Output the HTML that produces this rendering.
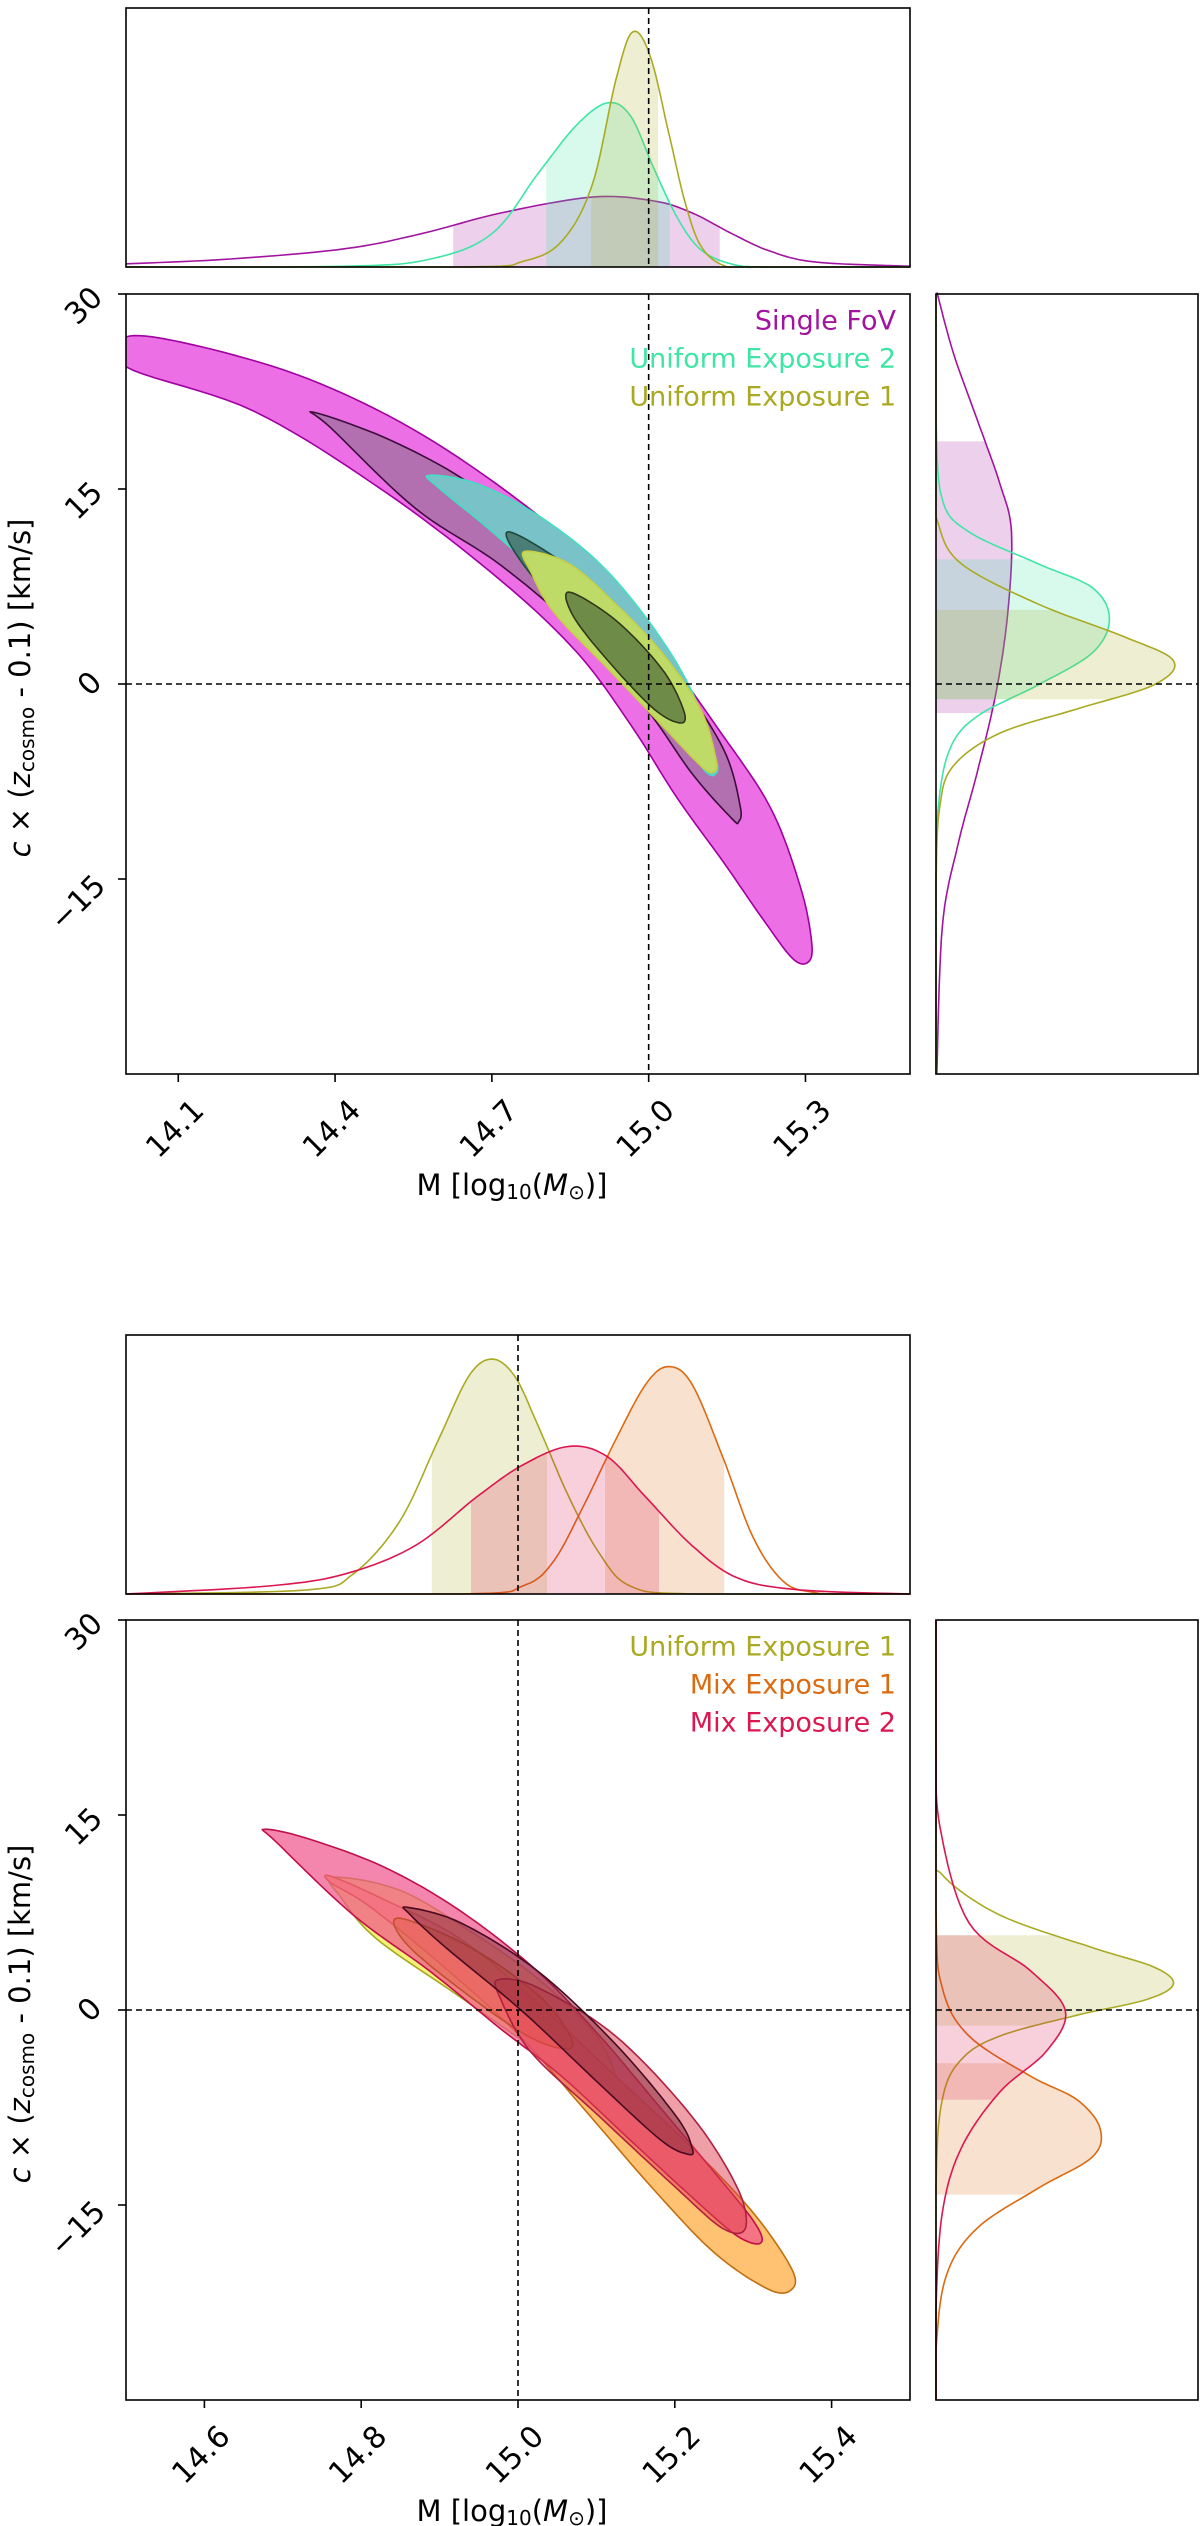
<!DOCTYPE html>
<html><head><meta charset="utf-8">
<style>
html,body{margin:0;padding:0;background:#fff;}
svg{display:block;font-family:"DejaVu Sans","Liberation Sans",sans-serif;}
</style></head>
<body>
<svg id="fig" width="1200" height="2526" viewBox="0 0 1200 2526" xmlns="http://www.w3.org/2000/svg"></svg>
<script>
// ---------- DATA ----------
const topXTicks = [14.1, 14.4, 14.7, 15.0, 15.3];
const botXTicks = [14.6, 14.8, 15.0, 15.2, 15.4];
const yTicks = [30, 15, 0, -15];
const yTickLabels = ["30", "15", "0", "\u221215"];
const topLegend = ["Single FoV", "Uniform Exposure 2", "Uniform Exposure 1"];
const botLegend = ["Uniform Exposure 1", "Mix Exposure 1", "Mix Exposure 2"];

// contours (M, v)
const sfOuterM = [14.0,14.127,14.347,14.568,14.789,14.937,15.040,15.128,15.231,15.290,15.312,15.305,15.275,15.217,15.143,15.054,14.966,14.863,14.716,14.495,14.244,14.0];
const sfOuterV = [26.7,26.1,23.5,19.15,12.95,7.38,1.8,-3.16,-9.36,-15.56,-19.9,-21.4,-21.1,-18.0,-13.7,-8.74,-3.16,2.42,8.0,14.8,21.0,24.4];
const sfInnerM = [14.359,14.495,14.642,14.789,14.937,15.054,15.143,15.175,15.172,15.158,15.084,14.996,14.878,14.716,14.554,14.392];
const sfInnerV = [20.9,18.95,15.85,11.5,6.14,0.56,-5.0,-9.36,-10.6,-10.3,-6.94,-1.92,3.6,9.17,13.5,19.7];
const ue2OuterM = [14.580,14.672,14.789,14.907,15.010,15.084,15.128,15.128,15.106,15.040,14.937,14.819,14.701,14.598];
const ue2OuterV = [16.05,15.4,12.95,9.24,4.28,-0.68,-5.64,-6.9,-6.6,-3.1,1.8,7.4,11.7,15.1];
const ue2InnerM = [14.730,14.819,14.937,15.025,15.062,15.062,15.040,14.966,14.863,14.760];
const ue2InnerV = [11.7,9.8,6.1,1.8,-1.3,-2.9,-2.9,-0.06,4.3,9.2];
const ue1OuterM = [14.763,14.848,14.937,15.025,15.099,15.128,15.125,15.099,15.025,14.922,14.819,14.775];
const ue1OuterV = [10.2,9.24,6.14,2.42,-1.92,-5.64,-6.76,-6.26,-3.16,1.18,5.5,8.6];
const ue1InnerM = [14.848,14.937,15.025,15.066,15.062,15.010,14.922,14.856];
const ue1InnerV = [7.07,4.9,1.18,-1.92,-3.0,-1.92,1.8,5.2];

// bottom contours
const m2OuterM = [14.677,14.731,14.829,14.927,15.025,15.104,15.173,15.241,15.300,15.310,15.280,15.222,15.143,15.055,14.976,14.888,14.790,14.692];
const m2OuterV = [13.9,13.2,11.0,7.6,2.97,-1.98,-6.9,-11.8,-16.2,-17.9,-17.4,-14.4,-10.0,-5.07,-1.36,2.97,7.3,12.9];
const m1OuterM = [14.761,14.829,14.927,15.025,15.124,15.222,15.300,15.349,15.349,15.320,15.251,15.173,15.084,14.999,14.900,14.810,14.761];
const m1OuterV = [10.3,8.5,5.44,0.5,-5.07,-10.6,-15.6,-19.9,-21.5,-21.5,-18.7,-13.8,-7.6,-1.8,3.6,8.0,9.8];
const m2InnerM = [14.859,14.927,15.025,15.124,15.202,15.222,15.217,15.182,15.104,15.006,14.908,14.863];
const m2InnerV = [7.9,6.7,3.0,-2.6,-8.2,-10.6,-11.1,-10.0,-5.7,-0.12,4.8,7.3];
const m1InnerM = [14.976,15.025,15.124,15.222,15.280,15.290,15.261,15.202,15.104,15.016,14.976];
const m1InnerV = [2.35,1.73,-1.98,-8.2,-13.7,-16.8,-16.8,-13.7,-8.2,-3.2,1.1];

// marginal densities
const sfTopM = [14.0,14.2,14.421,14.568,14.716,14.892,15.010,15.084,15.158,15.231,15.320,15.5];
const sfTopH = [0.012,0.031,0.071,0.13,0.208,0.27,0.255,0.208,0.13,0.062,0.019,0.003];
const ue2TopM = [14.0,14.421,14.583,14.701,14.789,14.863,14.922,14.966,15.010,15.054,15.099,15.158,15.231,15.5];
const ue2TopH = [0,0.003,0.031,0.13,0.363,0.55,0.634,0.581,0.38,0.193,0.068,0.012,0,0];
const ue1TopM = [14.0,14.642,14.760,14.834,14.892,14.937,14.969,15.003,15.040,15.069,15.099,15.143,15.202,15.5];
const ue1TopH = [0,0,0.022,0.1,0.317,0.72,0.907,0.814,0.503,0.255,0.084,0.006,0,0];
const sfTopBand = [14.626, 15.136];
const ue2TopBand = [14.804, 15.040];
const ue1TopBand = [14.890, 15.018];

const sfRightV = [30,29.7,25.35,20.4,15.4,11.7,5.5,-0.68,-6.9,-12.5,-18.7,-30];
const sfRightH = [0.005,0.009,0.068,0.156,0.244,0.288,0.274,0.229,0.156,0.082,0.024,0.003];
const ue2RightV = [30,20.4,14.2,11.7,9.24,7.4,5.0,2.4,-0.06,-2.5,-5.0,-9.4,-15.6,-30];
const ue2RightH = [0,0,0.024,0.126,0.391,0.597,0.662,0.597,0.391,0.156,0.053,0.009,0,0];
const ue1RightV = [30,15.4,12.3,9.24,6.14,3.66,1.8,-0.06,-1.92,-3.78,-6.26,-9.36,-15.6,-30];
const ue1RightH = [0,0,0.009,0.097,0.391,0.715,0.906,0.832,0.538,0.244,0.068,0.015,0,0];
const sfRightBand = [-2.23, 18.66];
const ue2RightBand = [-1.18, 9.6];
const ue1RightBand = [-1.18, 5.7];

const ue1BTopM = [14.5,14.731,14.790,14.849,14.898,14.937,14.967,14.996,15.025,15.065,15.104,15.143,15.222,15.5];
const ue1BTopH = [0,0.016,0.078,0.28,0.592,0.84,0.907,0.84,0.654,0.374,0.156,0.031,0,0];
const m1BTopM = [14.5,14.927,15.006,15.045,15.084,15.124,15.163,15.192,15.222,15.261,15.300,15.339,15.378,15.418,15.5];
const m1BTopH = [0,0,0.031,0.125,0.343,0.592,0.81,0.878,0.81,0.53,0.218,0.047,0.006,0,0];
const m2BTopM = [14.5,14.682,14.780,14.869,14.947,15.006,15.065,15.114,15.163,15.222,15.280,15.359,15.5];
const m2BTopH = [0,0.031,0.078,0.187,0.374,0.498,0.57,0.53,0.374,0.187,0.062,0.016,0];
const ue1BTopBand = [14.890, 15.037];
const m2BTopBand = [14.940, 15.180];
const m1BTopBand = [15.111, 15.263];

const ue1BRightV = [30,12.87,10.4,7.3,4.8,3.3,2.0,0.8,-0.4,-2.0,-3.8,-6.9,-13.7,-30];
const ue1BRightH = [0,0,0.024,0.244,0.597,0.832,0.906,0.803,0.538,0.244,0.097,0.024,0,0];
const m1BRightV = [30,7.9,1.7,-2.0,-5.1,-6.9,-9.1,-11.3,-13.7,-16.8,-20.5,-26.1,-30];
const m1BRightH = [0,0,0.024,0.126,0.362,0.538,0.626,0.597,0.391,0.156,0.038,0,0];
const m2BRightV = [30,20.3,14.1,6.7,3.0,-0.1,-3.2,-6.3,-10.6,-15.6,-23.0,-30];
const m2BRightH = [0,0,0.015,0.126,0.362,0.494,0.42,0.244,0.097,0.024,0,0];
const ue1BRightBand = [-1.2, 5.75];
const m2BRightBand = [-6.9, 5.75];
const m1BRightBand = [-14.2, -4.1];

// ---------- rendering ----------
const NS = "http://www.w3.org/2000/svg";
const svg = document.getElementById("fig");
function mk(tag, attrs, parent) {
  const e = document.createElementNS(NS, tag);
  for (const k in attrs) e.setAttribute(k, attrs[k]);
  (parent || svg).appendChild(e);
  return e;
}
const C = {sf:"#a2149f", ue2:"#3ee6a6", ue1:"#aaaa22", m1:"#dc6a10", m2:"#dc1650"};

function makeFig(o) {
  const L = 126, R = 910, T = o.mainTop, B = o.mainTop + 780;
  const xs = m => L + (m - o.xmin) / (o.xmax - o.xmin) * (R - L);
  const ys = v => T + (30 - v) / 60 * (B - T);
  const mT = o.margTop, mB = o.margTop + 259;
  const rL = 936, rR = 1198;
  return {L,R,T,B,xs,ys,mT,mB,rL,rR};
}
function crSample(pts, closed, n) {
  const out = [], N = pts.length;
  const g = i => closed ? pts[(i + N) % N] : pts[Math.max(0, Math.min(N - 1, i))];
  const segs = closed ? N : N - 1;
  for (let i = 0; i < segs; i++) {
    const p0 = g(i - 1), p1 = g(i), p2 = g(i + 1), p3 = g(i + 2);
    for (let k = 0; k < n; k++) {
      const t = k / n, t2 = t * t, t3 = t2 * t;
      const f = (a, b, c, d) => 0.5 * ((2 * b) + (-a + c) * t + (2 * a - 5 * b + 4 * c - d) * t2 + (-a + 3 * b - 3 * c + d) * t3);
      out.push([f(p0[0], p1[0], p2[0], p3[0]), f(p0[1], p1[1], p2[1], p3[1])]);
    }
  }
  if (!closed) out.push(pts[N - 1]);
  return out;
}
const toD = (pts, close) => "M" + pts.map(p => p[0].toFixed(1) + "," + p[1].toFixed(1)).join("L") + (close ? "Z" : "");

function contour(f, Ms, Vs, fill, stroke, op, name, clip) {
  const pts = Ms.map((m, i) => [f.xs(m), f.ys(Vs[i])]);
  const p = mk("path", {d: toD(crSample(pts, true, 10), true), fill: fill, "fill-opacity": op, stroke: stroke, "stroke-width": 1.6, "clip-path": clip});
  
  
}
function topMarg(f, Ms, Hs, band, color, name) {
  const H = f.mB - f.mT;
  const pts = Ms.map((m, i) => [f.xs(m), f.mB - Hs[i] * H]);
  const s = crSample(pts, false, 10).filter(p => p[0] >= f.L - 0.5 && p[0] <= f.R + 0.5).map(p => [p[0], Math.min(f.mB, p[1])]);
  const bx0 = f.xs(band[0]), bx1 = f.xs(band[1]);
  const inb = s.filter(p => p[0] >= bx0 && p[0] <= bx1);
  const yAt = x => { for (let i = 1; i < s.length; i++) if (s[i][0] >= x) { const a = s[i - 1], b = s[i]; const t = (x - a[0]) / ((b[0] - a[0]) || 1); return a[1] + t * (b[1] - a[1]); } return f.mB; };
  const poly = [[bx0, f.mB], [bx0, yAt(bx0)], ...inb, [bx1, yAt(bx1)], [bx1, f.mB]];
  const bp = mk("path", {d: toD(poly, true), fill: color, "fill-opacity": 0.2, stroke: "none"});
  
  
  const lp = mk("path", {d: toD(s, false), fill: "none", stroke: color, "stroke-width": 1.6});
  
  
}
function rightMarg(f, Vs, Hs, band, color, name) {
  const W = f.rR - f.rL;
  const pts = Vs.map((v, i) => [f.rL + Hs[i] * W, f.ys(v)]);
  const s = crSample(pts, false, 10).map(p => [Math.max(f.rL, p[0]), p[1]]);
  const by0 = f.ys(band[1]), by1 = f.ys(band[0]);
  const inb = s.filter(p => p[1] >= by0 && p[1] <= by1);
  const xAt = y => { for (let i = 1; i < s.length; i++) if (s[i][1] >= y) { const a = s[i - 1], b = s[i]; const t = (y - a[1]) / ((b[1] - a[1]) || 1); return a[0] + t * (b[0] - a[0]); } return f.rL; };
  const poly = [[f.rL, by0], [xAt(by0), by0], ...inb, [xAt(by1), by1], [f.rL, by1]];
  const bp = mk("path", {d: toD(poly, true), fill: color, "fill-opacity": 0.2, stroke: "none"});
  
  
  const lp = mk("path", {d: toD(s, false), fill: "none", stroke: color, "stroke-width": 1.6});
  
  
}
function frame(x, y, w, h, name) {
  const r = mk("rect", {x: x, y: y, width: w, height: h, fill: "none", stroke: "#000", "stroke-width": 1.6});
  
  
}
function dash(x1, y1, x2, y2, name) {
  const l = mk("line", {x1: x1, y1: y1, x2: x2, y2: y2, stroke: "#000", "stroke-width": 1.6, "stroke-dasharray": "6,4"});
  
  
}
function axes(f, xticks, pre, labelY) {
  xticks.forEach(t => {
    const x = f.xs(t);
    const tk = mk("line", {x1: x, y1: f.B, x2: x, y2: f.B + 8, stroke: "#000", "stroke-width": 1.6});
    
    
    const tx = mk("text", {x: 0, y: 0, "font-size": 30, "text-anchor": "middle", "dominant-baseline": "central", transform: `translate(${x - 3},${f.B + 55}) rotate(-45)`});
    tx.textContent = t.toFixed(1);
    
    
  });
  yTicks.forEach((t, i) => {
    const y = f.ys(t);
    const tk = mk("line", {x1: f.L - 8, y1: y, x2: f.L, y2: y, stroke: "#000", "stroke-width": 1.6});
    
    
    const len = yTickLabels[i].length;
    const tx = mk("text", {x: 0, y: 0, "font-size": 30, "text-anchor": "middle", "dominant-baseline": "central", transform: `translate(${96 - 6 * len},${y + (len - 1) * 12}) rotate(-45)`});
    tx.textContent = yTickLabels[i];
    
    
  });
  const xl = mk("text", {x: 512, y: labelY, "font-size": 29, "text-anchor": "middle", "dominant-baseline": "central"});
  xl.innerHTML = 'M [log<tspan font-size="20" dy="7">10</tspan><tspan dy="-7">(</tspan><tspan font-style="italic">M</tspan><tspan font-size="20" dy="7">\u2299</tspan><tspan dy="-7">)]</tspan>';
  
  
  const yl = mk("text", {x: 0, y: 0, "font-size": 29, "text-anchor": "middle", "dominant-baseline": "central", transform: `translate(20,${(f.T + f.B) / 2 + 4}) rotate(-90)`});
  yl.innerHTML = '<tspan font-style="italic">c</tspan> \u00d7 (<tspan font-style="italic">z</tspan><tspan font-size="20" dy="7">cosmo</tspan><tspan dy="-7"> - 0.1) [km/s]</tspan>';
  
  
}
function legend(f, labels, colors, pre) {
  labels.forEach((lab, i) => {
    const t = mk("text", {x: 896, y: f.T + 27 + i * 38, "font-size": 27, "text-anchor": "end", "dominant-baseline": "central", fill: colors[i]});
    t.textContent = lab;
    
    
  });
}
function clipFor(f, id) {
  const cp = mk("clipPath", {id: id});
  mk("rect", {x: f.L, y: f.T, width: f.R - f.L, height: f.B - f.T}, cp);
  return `url(#${id})`;
}

// ---- top figure
const A = makeFig({mainTop: 294, margTop: 8, xmin: 14.0, xmax: 15.5});
const clipA = clipFor(A, "clipA");
contour(A, sfOuterM, sfOuterV, "#ec6fe5", "#a000a0", 1, "single-fov-2sigma", clipA);
contour(A, sfInnerM, sfInnerV, "#b270b0", "#3c0c3c", 1, "single-fov-1sigma", clipA);
contour(A, ue2OuterM, ue2OuterV, "#78c2c8", "#40e0c0", 1, "uniform-exp2-2sigma", clipA);
contour(A, ue2InnerM, ue2InnerV, "#4c7e78", "#1c4a40", 1, "uniform-exp2-1sigma", clipA);
contour(A, ue1OuterM, ue1OuterV, "#bedb68", "#c8d040", 1, "uniform-exp1-2sigma", clipA);
contour(A, ue1InnerM, ue1InnerV, "#6e8c48", "#303818", 1, "uniform-exp1-1sigma", clipA);
topMarg(A, sfTopM, sfTopH, sfTopBand, C.sf, "top-marginal-single-fov");
topMarg(A, ue2TopM, ue2TopH, ue2TopBand, C.ue2, "top-marginal-uniform-exp2");
topMarg(A, ue1TopM, ue1TopH, ue1TopBand, C.ue1, "top-marginal-uniform-exp1");
rightMarg(A, sfRightV, sfRightH, sfRightBand, C.sf, "right-marginal-single-fov");
rightMarg(A, ue2RightV, ue2RightH, ue2RightBand, C.ue2, "right-marginal-uniform-exp2");
rightMarg(A, ue1RightV, ue1RightH, ue1RightBand, C.ue1, "right-marginal-uniform-exp1");
dash(A.xs(15.0), A.T, A.xs(15.0), A.B, "truth-mass-line");
dash(A.L, A.ys(0), A.R, A.ys(0), "truth-velocity-line");
dash(A.xs(15.0), A.mT, A.xs(15.0), A.mB, "top-marginal-truth-line");
dash(A.rL, A.ys(0), A.rR, A.ys(0), "right-marginal-truth-line");
frame(A.L, A.T, A.R - A.L, A.B - A.T, "top-main-axes");
frame(A.L, A.mT, A.R - A.L, A.mB - A.mT, "top-mass-marginal-axes");
frame(A.rL, A.T, A.rR - A.rL, A.B - A.T, "top-velocity-marginal-axes");
axes(A, topXTicks, "top", 1185);
legend(A, topLegend, [C.sf, C.ue2, C.ue1], "top");

// ---- bottom figure
const Bf = makeFig({mainTop: 1620, margTop: 1335, xmin: 14.5, xmax: 15.5});
const clipB = clipFor(Bf, "clipB");
contour(Bf, ue1OuterM, ue1OuterV, "#f2f27a", "#a8a820", 1, "uniform-exp1-2sigma-b", clipB);
contour(Bf, m1OuterM, m1OuterV, "#ffc272", "#c07010", 1, "mix-exp1-2sigma", clipB);
contour(Bf, m2OuterM, m2OuterV, "#f0528a", "#c01048", 0.7, "mix-exp2-2sigma", clipB);
contour(Bf, ue1InnerM, ue1InnerV, "#e06040", "#c05030", 0.45, "uniform-exp1-1sigma-b", clipB);
contour(Bf, m1InnerM, m1InnerV, "#e04050", "#b02040", 0.5, "mix-exp1-1sigma", clipB);
contour(Bf, m2InnerM, m2InnerV, "#802838", "#4a0a20", 0.5, "mix-exp2-1sigma", clipB);
topMarg(Bf, ue1BTopM, ue1BTopH, ue1BTopBand, C.ue1, "bottom-top-marginal-uniform-exp1");
topMarg(Bf, m1BTopM, m1BTopH, m1BTopBand, C.m1, "bottom-top-marginal-mix-exp1");
topMarg(Bf, m2BTopM, m2BTopH, m2BTopBand, C.m2, "bottom-top-marginal-mix-exp2");
rightMarg(Bf, ue1BRightV, ue1BRightH, ue1BRightBand, C.ue1, "bottom-right-marginal-uniform-exp1");
rightMarg(Bf, m1BRightV, m1BRightH, m1BRightBand, C.m1, "bottom-right-marginal-mix-exp1");
rightMarg(Bf, m2BRightV, m2BRightH, m2BRightBand, C.m2, "bottom-right-marginal-mix-exp2");
dash(Bf.xs(15.0), Bf.T, Bf.xs(15.0), Bf.B, "bottom-truth-mass-line");
dash(Bf.L, Bf.ys(0), Bf.R, Bf.ys(0), "bottom-truth-velocity-line");
dash(Bf.xs(15.0), Bf.mT, Bf.xs(15.0), Bf.mB, "bottom-top-marginal-truth-line");
dash(Bf.rL, Bf.ys(0), Bf.rR, Bf.ys(0), "bottom-right-marginal-truth-line");
frame(Bf.L, Bf.T, Bf.R - Bf.L, Bf.B - Bf.T, "bottom-main-axes");
frame(Bf.L, Bf.mT, Bf.R - Bf.L, Bf.mB - Bf.mT, "bottom-mass-marginal-axes");
frame(Bf.rL, Bf.T, Bf.rR - Bf.rL, Bf.B - Bf.T, "bottom-velocity-marginal-axes");
axes(Bf, botXTicks, "bottom", 2511);
legend(Bf, botLegend, [C.ue1, C.m1, C.m2], "bottom");
</script>
</body></html>
